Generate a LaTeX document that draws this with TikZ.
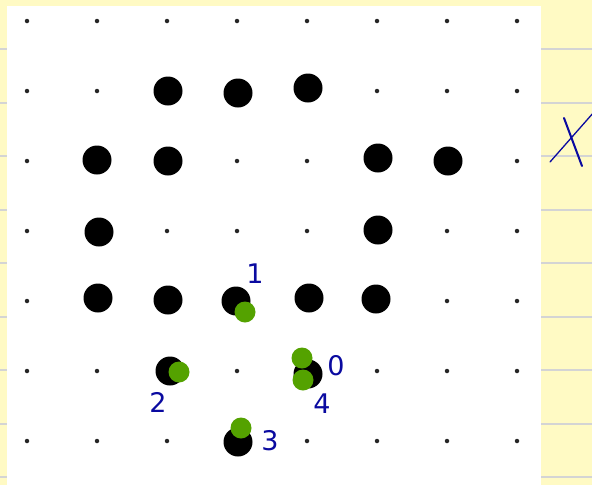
\documentclass[tikz,border=0pt]{standalone}
\usepackage{fontspec}
\setmainfont{DejaVu Sans}
\definecolor{paper}{RGB}{255,250,196}
\definecolor{rule}{RGB}{212,212,212}
\definecolor{pen}{RGB}{10,10,160}
\definecolor{stone}{RGB}{84,162,0}
\tikzset{
  smalldot/.style={circle,fill=black!85,inner sep=0pt,minimum size=4.5pt},
  bigdot/.style={circle,fill=black,inner sep=0pt,minimum size=29pt},
  greendot/.style={circle,fill=stone,inner sep=0pt,minimum size=21pt},
  hand/.style={text=pen,font=\fontsize{27}{27}\selectfont,inner sep=0pt},
  penline/.style={draw=pen,line width=2pt,line cap=round}
}
\begin{document}
\begin{tikzpicture}[x=1pt,y=-1pt]
\useasboundingbox (0,0) rectangle (592,485);
\fill[paper] (0,0) rectangle (592,485);
\foreach \yy in {49,102.5,156,209.5,263,316.5,370,423.5,477}
  \draw[rule,line width=2pt] (0,\yy) -- (592,\yy);
\fill[white] (7,6) rectangle (541,485);
% small grid dots
\foreach \c in {0,...,7}
  \foreach \r in {0,...,6}
    \node[smalldot] (s\c\r) at ({27+70*\c},{21+70*\r}) {};
% big black stones
\node[bigdot] (b1) at (168,91) {};
\node[bigdot] (b2) at (238,93) {};
\node[bigdot] (b3) at (308,88) {};
\node[bigdot] (b4) at (97,160) {};
\node[bigdot] (b5) at (168,161) {};
\node[bigdot] (b6) at (378,158) {};
\node[bigdot] (b7) at (448,161) {};
\node[bigdot] (b8) at (99,232) {};
\node[bigdot] (b9) at (378,230) {};
\node[bigdot] (b10) at (98,298) {};
\node[bigdot] (b11) at (168,300) {};
\node[bigdot] (b12) at (236,301) {};
\node[bigdot] (b13) at (309,298) {};
\node[bigdot] (b14) at (376,299) {};
\node[bigdot] (b15) at (170,371) {};
\node[bigdot] (b16) at (308,374) {};
\node[bigdot] (b17) at (238,442) {};
% green stones
\node[greendot] (g1) at (245,312) {};
\node[greendot] (g2) at (179,372) {};
\node[greendot] (g0) at (302,358) {};
\node[greendot] (g4) at (303,380) {};
\node[greendot] (g3) at (241,428) {};
% labels
\node[hand] (l1) at (255,274) {1};
\node[hand] (l0) at (336,366) {0};
\node[hand] (l2) at (158,402) {2};
\node[hand] (l4) at (322,404) {4};
\node[hand] (l3) at (270,441) {3};
% X mark
\coordinate (x1) at (564,118);
\coordinate (x2) at (582,166);
\coordinate (x3) at (550,162);
\coordinate (x4) at (594,112);
\draw[penline] (x1) -- (x2);
\draw[penline,line width=1.3pt] (x3) -- (x4);
\end{tikzpicture}
\end{document}
